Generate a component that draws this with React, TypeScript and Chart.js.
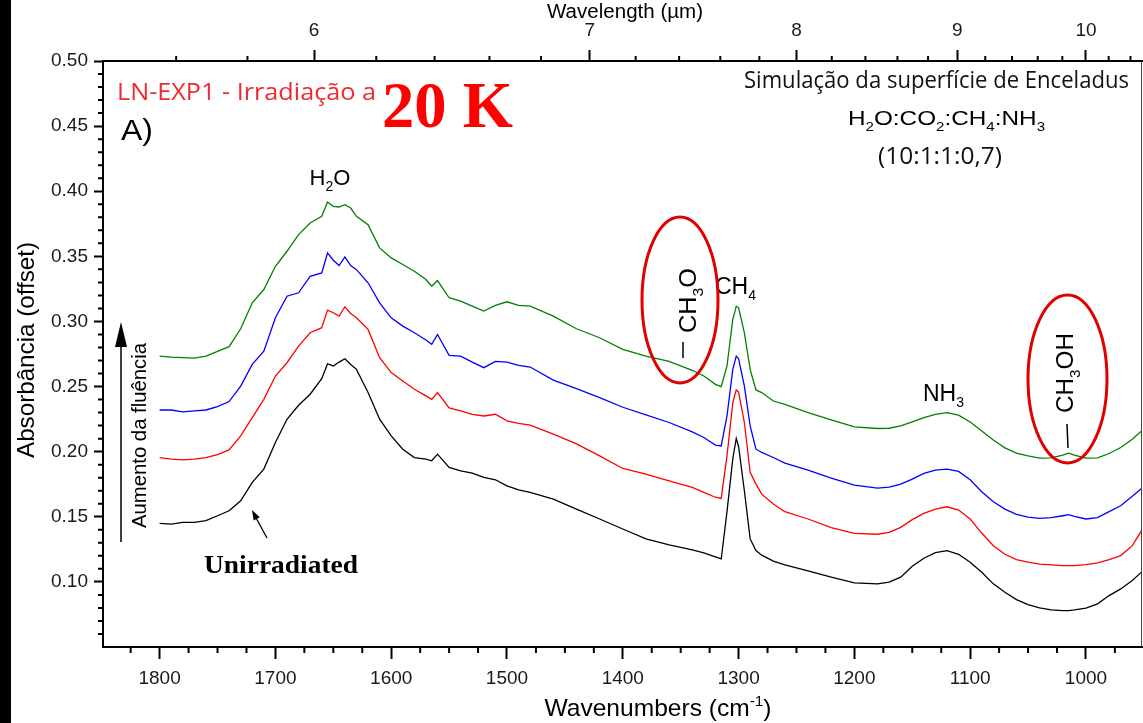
import React, { useEffect, useRef } from 'react';
import { Chart, registerables } from 'chart.js';

Chart.register(...registerables);

// ---------- data ----------
const WAVENUMBERS = [
  1800, 1790, 1780, 1770, 1760, 1750, 1740, 1730, 1720, 1710,
  1700, 1690, 1680, 1670, 1660, 1655, 1650, 1645, 1640, 1635,
  1630, 1620, 1610, 1600, 1590, 1580, 1570, 1565, 1560, 1550,
  1540, 1530, 1520, 1510, 1500, 1490, 1480, 1460, 1440, 1420,
  1400, 1380, 1360, 1340, 1330, 1320, 1315, 1310, 1305, 1302,
  1300, 1295, 1290, 1285, 1280, 1270, 1260, 1240, 1220, 1200,
  1180, 1170, 1160, 1150, 1140, 1130, 1120, 1110, 1100, 1090,
  1080, 1070, 1060, 1050, 1040, 1030, 1020, 1015, 1010, 1000,
  990, 980, 970, 960, 952,
];

// highest fluence (green)
const ABS_FLUENCE_3 = [
  0.2734, 0.2726, 0.2722, 0.2719, 0.2734, 0.2770, 0.2806, 0.2944, 0.3143, 0.3245,
  0.3424, 0.3539, 0.3667, 0.3756, 0.3807, 0.3917, 0.3884, 0.3879, 0.3897, 0.3871,
  0.3807, 0.3743, 0.3565, 0.3488, 0.3437, 0.3385, 0.3322, 0.3270, 0.3314, 0.3182,
  0.3156, 0.3117, 0.3079, 0.3123, 0.3151, 0.3123, 0.3117, 0.3041, 0.2944, 0.2875,
  0.2785, 0.2734, 0.2693, 0.2625, 0.2581, 0.2517, 0.2500, 0.2658, 0.3015, 0.3117,
  0.3105, 0.2913, 0.2632, 0.2474, 0.2454, 0.2389, 0.2364, 0.2300, 0.2244, 0.2190,
  0.2178, 0.2180, 0.2198, 0.2228, 0.2262, 0.2287, 0.2300, 0.2280, 0.2228, 0.2159,
  0.2090, 0.2029, 0.1989, 0.1968, 0.1950, 0.1953, 0.1973, 0.1989, 0.1973, 0.1950,
  0.1953, 0.1986, 0.2032, 0.2096, 0.2159,
];

// blue
const ABS_FLUENCE_2 = [
  0.2320, 0.2320, 0.2305, 0.2313, 0.2320, 0.2346, 0.2385, 0.2504, 0.2670, 0.2772,
  0.3028, 0.3194, 0.3220, 0.3347, 0.3373, 0.3526, 0.3470, 0.3429, 0.3496, 0.3429,
  0.3398, 0.3297, 0.3143, 0.3028, 0.2964, 0.2913, 0.2857, 0.2824, 0.2900, 0.2739,
  0.2734, 0.2688, 0.2645, 0.2693, 0.2688, 0.2663, 0.2650, 0.2550, 0.2484, 0.2415,
  0.2341, 0.2282, 0.2224, 0.2152, 0.2109, 0.2050, 0.2044, 0.2274, 0.2632, 0.2734,
  0.2714, 0.2504, 0.2198, 0.2019, 0.1994, 0.1955, 0.1912, 0.1858, 0.1797, 0.1743,
  0.1720, 0.1728, 0.1751, 0.1789, 0.1833, 0.1858, 0.1866, 0.1848, 0.1784, 0.1692,
  0.1615, 0.1559, 0.1519, 0.1498, 0.1488, 0.1493, 0.1508, 0.1516, 0.1503, 0.1483,
  0.1493, 0.1539, 0.1585, 0.1657, 0.1718,
];

// red
const ABS_FLUENCE_1 = [
  0.1955, 0.1943, 0.1937, 0.1943, 0.1955, 0.1978, 0.2014, 0.2121, 0.2262, 0.2402,
  0.2581, 0.2683, 0.2811, 0.2913, 0.2952, 0.3087, 0.3067, 0.3041, 0.3113, 0.3061,
  0.3028, 0.2939, 0.2722, 0.2607, 0.2542, 0.2479, 0.2428, 0.2402, 0.2454, 0.2336,
  0.2313, 0.2287, 0.2274, 0.2287, 0.2236, 0.2218, 0.2203, 0.2134, 0.2060, 0.1968,
  0.1871, 0.1828, 0.1776, 0.1726, 0.1687, 0.1650, 0.1641, 0.1968, 0.2377, 0.2474,
  0.2458, 0.2224, 0.1841, 0.1751, 0.1674, 0.1598, 0.1539, 0.1483, 0.1416, 0.1373,
  0.1366, 0.1381, 0.1419, 0.1478, 0.1526, 0.1559, 0.1577, 0.1552, 0.1483, 0.1375,
  0.1278, 0.1212, 0.1171, 0.1151, 0.1136, 0.1130, 0.1125, 0.1125, 0.1125, 0.1132,
  0.1146, 0.1171, 0.1202, 0.1278, 0.1393,
];

// unirradiated (black)
const ABS_UNIRRADIATED = [
  0.1450, 0.1444, 0.1457, 0.1457, 0.1470, 0.1508, 0.1546, 0.1623, 0.1764, 0.1866,
  0.2070, 0.2249, 0.2356, 0.2441, 0.2560, 0.2675, 0.2658, 0.2688, 0.2714, 0.2670,
  0.2632, 0.2454, 0.2249, 0.2121, 0.2019, 0.1955, 0.1943, 0.1930, 0.1981, 0.1879,
  0.1853, 0.1835, 0.1802, 0.1784, 0.1738, 0.1707, 0.1687, 0.1636, 0.1559, 0.1483,
  0.1406, 0.1330, 0.1284, 0.1245, 0.1222, 0.1192, 0.1176, 0.1540, 0.1945, 0.2101,
  0.2040, 0.1700, 0.1330, 0.1240, 0.1205, 0.1160, 0.1130, 0.1084, 0.1036, 0.0992,
  0.0985, 0.0998, 0.1036, 0.1120, 0.1182, 0.1225, 0.1240, 0.1212, 0.1151, 0.1074,
  0.0985, 0.0921, 0.0864, 0.0826, 0.0801, 0.0785, 0.0780, 0.0780, 0.0785, 0.0798,
  0.0831, 0.0895, 0.0946, 0.1010, 0.1075,
];

const X_TICKS = [1800, 1700, 1600, 1500, 1400, 1300, 1200, 1100, 1000];
const Y_TICKS = [0.10, 0.15, 0.20, 0.25, 0.30, 0.35, 0.40, 0.45, 0.50];
const WAVELENGTH_TICKS = [6, 7, 8, 9, 10];
const X_MIN = 951.6;
const X_MAX = 1848.9;
const Y_MIN = 0.05;
const Y_MAX = 0.5;

const SANS = "'Liberation Sans', Arial, sans-serif";
const HUMAN = "'Open Sans', 'Noto Sans', sans-serif";
const SERIF = "'Liberation Serif', 'Times New Roman', serif";

type Seg = [string, ('n' | 'sub' | 'sup')?];

function drawRich(
  ctx: CanvasRenderingContext2D,
  segs: Seg[],
  x: number,
  y: number,
  o: { size: number; family?: string; weight?: string; color?: string; align?: 'left' | 'center' | 'right'; rotate?: number; width?: number }
) {
  const fam = o.family ?? SANS;
  const w = o.weight ?? 'normal';
  const fontFor = (k?: string) => `${w} ${!k || k === 'n' ? o.size : Math.round(o.size * 0.62)}px ${fam}`;
  ctx.save();
  let total = 0;
  const widths = segs.map(([t, k]) => {
    ctx.font = fontFor(k);
    const m = ctx.measureText(t).width;
    total += m;
    return m;
  });
  const sx = o.width ? o.width / total : 1;
  ctx.translate(x, y);
  if (o.rotate) ctx.rotate(o.rotate);
  ctx.scale(sx, 1);
  let cx = o.align === 'center' ? -total / 2 : o.align === 'right' ? -total : 0;
  ctx.fillStyle = o.color ?? '#000';
  ctx.textBaseline = 'alphabetic';
  ctx.textAlign = 'left';
  segs.forEach(([t, k], i) => {
    ctx.font = fontFor(k);
    const dy = k === 'sub' ? o.size * 0.28 : k === 'sup' ? -o.size * 0.42 : 0;
    ctx.fillText(t, cx, dy);
    cx += widths[i];
  });
  ctx.restore();
}

function line(ctx: CanvasRenderingContext2D, x1: number, y1: number, x2: number, y2: number, w: number, c: string) {
  ctx.save();
  ctx.strokeStyle = c;
  ctx.lineWidth = w;
  ctx.beginPath();
  ctx.moveTo(x1, y1);
  ctx.lineTo(x2, y2);
  ctx.stroke();
  ctx.restore();
}

function ellipse(ctx: CanvasRenderingContext2D, cx: number, cy: number, rx: number, ry: number) {
  ctx.save();
  ctx.strokeStyle = '#e00000';
  ctx.lineWidth = 3;
  ctx.beginPath();
  ctx.ellipse(cx, cy, rx, ry, 0, 0, Math.PI * 2);
  ctx.stroke();
  ctx.restore();
}

function arrowHead(ctx: CanvasRenderingContext2D, tx: number, ty: number, fx: number, fy: number, len: number, half: number) {
  const dx = tx - fx;
  const dy = ty - fy;
  const d = Math.hypot(dx, dy);
  const ux = dx / d;
  const uy = dy / d;
  const bx = tx - ux * len;
  const by = ty - uy * len;
  ctx.save();
  ctx.fillStyle = '#000';
  ctx.beginPath();
  ctx.moveTo(tx, ty);
  ctx.lineTo(bx - uy * half, by + ux * half);
  ctx.lineTo(bx + uy * half, by - ux * half);
  ctx.closePath();
  ctx.fill();
  ctx.restore();
}

const decorPlugin = {
  id: 'decor',
  afterDraw(chart: any) {
    const ctx: CanvasRenderingContext2D = chart.ctx;
    const a = chart.chartArea;
    const xs = chart.scales.x;
    const xt = chart.scales.x2;
    const ys = chart.scales.y;

    // minor ticks
    ctx.save();
    ctx.strokeStyle = '#000';
    ctx.lineWidth = 2;
    ctx.beginPath();
    for (let v = 950; v <= 1850; v += 25) {
      if (v % 100 === 0 || v < X_MIN || v > X_MAX) continue;
      const px = xs.getPixelForValue(v);
      ctx.moveTo(px, a.bottom);
      ctx.lineTo(px, a.bottom + 6);
    }
    for (let i = 5; i <= 50; i++) {
      if (i % 5 === 0) continue;
      const py = ys.getPixelForValue(i / 100);
      ctx.moveTo(a.left - 5, py);
      ctx.lineTo(a.left, py);
    }
    for (let i = 54; i <= 104; i += 2) {
      if (i % 10 === 0) continue;
      const wn = 100000 / i;
      if (wn < X_MIN || wn > X_MAX) continue;
      const px = xt.getPixelForValue(wn);
      ctx.moveTo(px, a.top);
      ctx.lineTo(px, a.top - 5);
    }
    ctx.stroke();
    ctx.restore();

    // right frame
    line(ctx, a.right - 0.5, a.top, a.right - 0.5, a.bottom, 1, '#444');

    // axis titles
    drawRich(ctx, [['Wavenumbers (cm'], ['-1', 'sup'], [')']], 658, 716, { size: 24, align: 'center', width: 227 });
    drawRich(ctx, [['Absorbância (offset)']], 34, 350, { size: 24, align: 'center', rotate: -Math.PI / 2, width: 216 });
    drawRich(ctx, [['Wavelength ('], ['µ'], ['m)']], 547, 18, { size: 20, width: 156 });

    // header texts
    drawRich(ctx, [['LN-EXP1 - Irradiação a']], 117, 100, { size: 24, family: HUMAN, color: '#ee2b30', width: 259 });
    drawRich(ctx, [['20 K']], 382, 127, { size: 66, family: SERIF, weight: 'bold', color: '#ff0000', width: 131 });
    drawRich(ctx, [['A)']], 121, 140, { size: 30, width: 32 });
    drawRich(ctx, [['Simulação da superfície de Enceladus']], 744, 88, { size: 23, family: HUMAN, color: '#111', width: 385 });
    drawRich(
      ctx,
      [['H'], ['2', 'sub'], ['O:CO'], ['2', 'sub'], [':CH'], ['4', 'sub'], [':NH'], ['3', 'sub']],
      848, 125, { size: 21, width: 197 }
    );
    drawRich(ctx, [['(10:1:1:0,7)']], 878, 164, { size: 23, family: HUMAN, color: '#111', width: 124 });

    // band labels
    drawRich(ctx, [['H'], ['2', 'sub'], ['O']], 330, 185, { size: 22, align: 'center' });
    drawRich(ctx, [['CH'], ['4', 'sub']], 715, 294, { size: 23 });
    drawRich(ctx, [['CH'], ['3', 'sub'], ['O']], 696, 333, { size: 24, rotate: -Math.PI / 2, width: 65 });
    line(ctx, 683, 342, 683, 358, 1.5, '#000');
    ellipse(ctx, 680, 300, 38, 83);
    drawRich(ctx, [['NH'], ['3', 'sub']], 923, 401, { size: 23 });
    drawRich(ctx, [['CH'], ['3', 'sub'], ['OH']], 1073, 413, { size: 24, rotate: -Math.PI / 2, width: 80 });
    line(ctx, 1067, 424, 1068, 448, 1.5, '#000');
    ellipse(ctx, 1067.5, 379, 39.5, 84);

    // fluence arrow
    line(ctx, 121, 542, 121, 340, 1.5, '#000');
    arrowHead(ctx, 121, 322, 121, 400, 25, 6);
    drawRich(ctx, [['Aumento da fluência']], 146, 528, { size: 20, rotate: -Math.PI / 2, width: 185 });

    // unirradiated label + arrow
    drawRich(ctx, [['Unirradiated']], 204, 573, { size: 26, family: SERIF, weight: 'bold', width: 154 });
    line(ctx, 267, 538, 255, 516, 1.3, '#000');
    arrowHead(ctx, 252, 510, 267, 538, 10, 3.5);
  },
};

export default function App() {
  const ref = useRef<HTMLCanvasElement | null>(null);

  useEffect(() => {
    if (!ref.current) return;
    Chart.defaults.font.family = SANS;
    const mk = (vals: number[], color: string, label: string) => ({
      label,
      data: WAVENUMBERS.map((x, i) => ({ x, y: vals[i] })),
      borderColor: color,
      backgroundColor: color,
      borderWidth: 1.3,
      pointRadius: 0,
      tension: 0,
      fill: false,
      xAxisID: 'x',
      yAxisID: 'y',
    });
    const tickFont = { size: 19, family: SANS };
    const chart = new Chart(ref.current, {
      type: 'line',
      data: {
        datasets: [
          mk(ABS_FLUENCE_3, '#008000', 'Fluência 3'),
          mk(ABS_FLUENCE_2, '#0000ff', 'Fluência 2'),
          mk(ABS_FLUENCE_1, '#ff0000', 'Fluência 1'),
          mk(ABS_UNIRRADIATED, '#000000', 'Unirradiated'),
        ],
      },
      options: {
        animation: false,
        responsive: false,
        devicePixelRatio: 1,
        layout: { padding: { left: 0, right: 1, top: 0, bottom: 0 } },
        plugins: { legend: { display: false }, tooltip: { enabled: false }, title: { display: false } },
        scales: {
          x: {
            type: 'linear',
            position: 'bottom',
            reverse: true,
            min: X_MIN,
            max: X_MAX,
            afterBuildTicks: (s: any) => {
              s.ticks = X_TICKS.map((v) => ({ value: v }));
            },
            afterFit: (s: any) => {
              s.height = 76;
            },
            ticks: { callback: (v: any) => String(v), font: tickFont, color: '#1a1a1a', padding: 8, maxRotation: 0, autoSkip: false },
            grid: { drawOnChartArea: false, drawTicks: true, tickLength: 12, tickWidth: 2, tickColor: '#000' },
            border: { display: true, color: '#000', width: 2 },
          },
          x2: {
            type: 'linear',
            position: 'top',
            reverse: true,
            min: X_MIN,
            max: X_MAX,
            afterBuildTicks: (s: any) => {
              s.ticks = WAVELENGTH_TICKS.map((l) => ({ value: 10000 / l }));
            },
            afterFit: (s: any) => {
              s.height = 61;
            },
            ticks: { callback: (v: any) => String(Math.round(10000 / Number(v))), font: tickFont, color: '#1a1a1a', padding: 8, maxRotation: 0, autoSkip: false },
            grid: { drawOnChartArea: false, drawTicks: true, tickLength: 11, tickWidth: 2, tickColor: '#000' },
            border: { display: true, color: '#000', width: 2 },
          },
          y: {
            type: 'linear',
            position: 'left',
            min: Y_MIN,
            max: Y_MAX,
            afterBuildTicks: (s: any) => {
              s.ticks = Y_TICKS.map((v) => ({ value: v }));
            },
            afterFit: (s: any) => {
              s.width = 103;
            },
            ticks: { callback: (v: any) => Number(v).toFixed(2), font: tickFont, color: '#1a1a1a', padding: 6, autoSkip: false },
            grid: { drawOnChartArea: false, drawTicks: true, tickLength: 9, tickWidth: 2, tickColor: '#000' },
            border: { display: true, color: '#000', width: 2 },
          },
        },
      },
      plugins: [decorPlugin],
    } as any);
    return () => chart.destroy();
  }, []);

  return (
    <div style={{ position: 'absolute', left: 0, top: 0, width: 1143, height: 723, background: '#fff', overflow: 'hidden' }}>
      <canvas ref={ref} width={1143} height={723} style={{ display: 'block', width: 1143, height: 723 }} />
      <div style={{ position: 'absolute', left: 0, top: 0, width: 11, height: 723, background: '#000' }} />
    </div>
  );
}
